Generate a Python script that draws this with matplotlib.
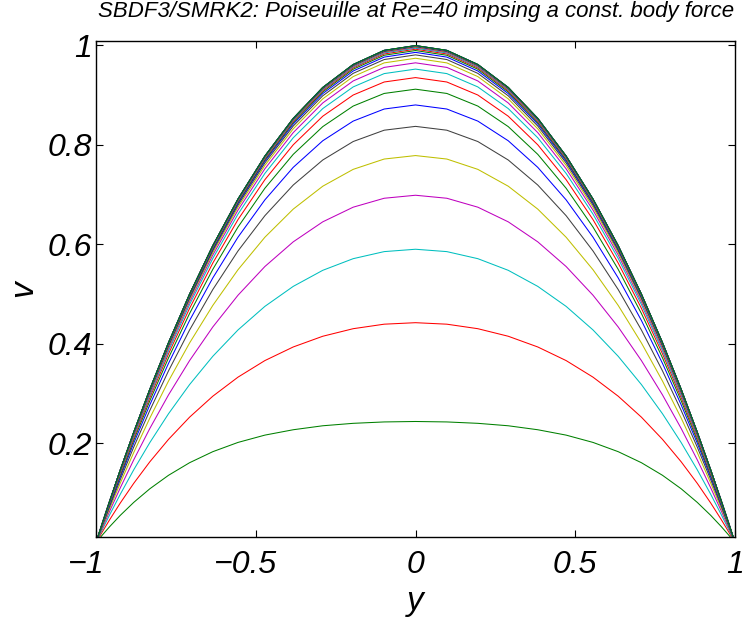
import matplotlib
matplotlib.use("Agg")
import matplotlib.pyplot as plt
import matplotlib.transforms as mtransforms

# Chebyshev nodes on the left half-channel (profile symmetric about y=0)
y_half = [-1.0, -0.99518, -0.98079, -0.95694, -0.92388, -0.88192, -0.83147,
          -0.77301, -0.70711, -0.63439, -0.55557, -0.47140, -0.38268,
          -0.29028, -0.19509, -0.09802, 0.0]

# velocity profiles v(y) at successive output times (left half, j=0..16)
v_half = [
    [0]*17,
    [0, 0.0038, 0.0150, 0.0325, 0.0551, 0.0811, 0.1085, 0.1356, 0.1609, 0.1831, 0.2017, 0.2164, 0.2272, 0.2352, 0.2401, 0.2429, 0.2438],
    [0, 0.00540, 0.02124, 0.04659, 0.07995, 0.11941, 0.16279, 0.20786, 0.25248, 0.29468, 0.33298, 0.36631, 0.39367, 0.41522, 0.43042, 0.43949, 0.4425],
    [0, 0.00652, 0.02570, 0.05657, 0.09757, 0.14664, 0.20144, 0.25942, 0.31805, 0.37492, 0.42792, 0.47532, 0.51551, 0.54782, 0.57124, 0.58544, 0.5902],
    [0, 0.00734, 0.02897, 0.06391, 0.11052, 0.16667, 0.22985, 0.29732, 0.36627, 0.43392, 0.49773, 0.55547, 0.60509, 0.64532, 0.67478, 0.69275, 0.6988],
    [0, 0.00794, 0.03138, 0.06931, 0.12004, 0.18139, 0.25073, 0.32518, 0.40170, 0.47727, 0.54903, 0.61437, 0.67092, 0.71697, 0.75086, 0.77161, 0.7786],
    [0, 0.00839, 0.03315, 0.07327, 0.12704, 0.19221, 0.26609, 0.34567, 0.42776, 0.50916, 0.58676, 0.65770, 0.71934, 0.76967, 0.80682, 0.82961, 0.8373],
    [0, 0.00871, 0.03445, 0.07619, 0.13218, 0.20016, 0.27737, 0.36071, 0.44690, 0.53257, 0.61446, 0.68951, 0.75489, 0.80836, 0.84791, 0.87220, 0.8804],
    [0, 0.00895, 0.03541, 0.07833, 0.13597, 0.20601, 0.28566, 0.37178, 0.46097, 0.54980, 0.63484, 0.71290, 0.78104, 0.83682, 0.87814, 0.90353, 0.9121],
    [0, 0.00913, 0.03611, 0.07990, 0.13874, 0.21031, 0.29176, 0.37991, 0.47132, 0.56245, 0.64982, 0.73010, 0.80026, 0.85774, 0.90035, 0.92655, 0.9354],
    [0, 0.00926, 0.03663, 0.08106, 0.14078, 0.21346, 0.29623, 0.38588, 0.47891, 0.57174, 0.66081, 0.74272, 0.81437, 0.87309, 0.91665, 0.94345, 0.9525],
    [0, 0.00936, 0.03701, 0.08191, 0.14229, 0.21578, 0.29953, 0.39028, 0.48450, 0.57859, 0.66891, 0.75202, 0.82476, 0.88441, 0.92867, 0.95590, 0.9651],
    [0, 0.00943, 0.03728, 0.08253, 0.14338, 0.21748, 0.30194, 0.39349, 0.48859, 0.58359, 0.67482, 0.75881, 0.83235, 0.89267, 0.93744, 0.96499, 0.9743],
    [0, 0.00948, 0.03749, 0.08299, 0.14420, 0.21873, 0.30371, 0.39586, 0.49161, 0.58728, 0.67919, 0.76383, 0.83796, 0.89877, 0.94392, 0.97171, 0.9811],
    [0, 0.00951, 0.03764, 0.08333, 0.14479, 0.21966, 0.30502, 0.39761, 0.49383, 0.59000, 0.68241, 0.76752, 0.84208, 0.90326, 0.94869, 0.97665, 0.9861],
    [0, 0.00954, 0.03775, 0.08358, 0.14523, 0.22034, 0.30599, 0.39890, 0.49547, 0.59201, 0.68478, 0.77025, 0.84514, 0.90658, 0.95222, 0.98031, 0.9898],
    [0, 0.00956, 0.03783, 0.08376, 0.14556, 0.22084, 0.30670, 0.39984, 0.49667, 0.59348, 0.68652, 0.77224, 0.84736, 0.90901, 0.95479, 0.98298, 0.9925],
    [0, 0.00958, 0.03789, 0.08390, 0.14579, 0.22121, 0.30722, 0.40054, 0.49756, 0.59456, 0.68780, 0.77372, 0.84901, 0.91080, 0.95670, 0.98496, 0.9945],
    [0, 0.00959, 0.03794, 0.08400, 0.14597, 0.22148, 0.30761, 0.40106, 0.49822, 0.59538, 0.68877, 0.77483, 0.85025, 0.91215, 0.95813, 0.98644, 0.9960],
    [0, 0.00960, 0.03797, 0.08407, 0.14609, 0.22167, 0.30788, 0.40141, 0.49867, 0.59592, 0.68941, 0.77557, 0.85108, 0.91305, 0.95908, 0.98743, 0.9970],
    [0, 0.00960, 0.03799, 0.08412, 0.14619, 0.22181, 0.30808, 0.40169, 0.49902, 0.59635, 0.68993, 0.77616, 0.85174, 0.91376, 0.95984, 0.98822, 0.9978],
    [0, 0.00961, 0.03801, 0.08416, 0.14626, 0.22192, 0.30824, 0.40190, 0.49929, 0.59668, 0.69031, 0.77660, 0.85223, 0.91430, 0.96041, 0.98881, 0.9984],
    [0, 0.00961, 0.03802, 0.08419, 0.14631, 0.22200, 0.30835, 0.40204, 0.49947, 0.59690, 0.69057, 0.77689, 0.85256, 0.91466, 0.96080, 0.98920, 0.9988],
    [0, 0.00961, 0.03803, 0.08421, 0.14634, 0.22205, 0.30842, 0.40215, 0.49960, 0.59706, 0.69076, 0.77712, 0.85281, 0.91493, 0.96108, 0.98950, 0.9991],
    [0, 0.00962, 0.03804, 0.08423, 0.14638, 0.22211, 0.30850, 0.40225, 0.49973, 0.59722, 0.69095, 0.77734, 0.85306, 0.91520, 0.96137, 0.98980, 0.9994],
    [0, 0.00962, 0.03805, 0.08424, 0.14640, 0.22214, 0.30854, 0.40230, 0.49980, 0.59731, 0.69105, 0.77745, 0.85318, 0.91534, 0.96151, 0.98995, 0.99955],
    [0, 0.00962, 0.03805, 0.08425, 0.14641, 0.22216, 0.30857, 0.40234, 0.49985, 0.59737, 0.69113, 0.77754, 0.85328, 0.91544, 0.96163, 0.99006, 0.99967],
    [0, 0.00962, 0.03806, 0.08425, 0.14642, 0.22218, 0.30860, 0.40238, 0.49989, 0.59742, 0.69119, 0.77760, 0.85335, 0.91552, 0.96171, 0.99015, 0.99976],
    [0, 0.00962, 0.03806, 0.08426, 0.14643, 0.22219, 0.30861, 0.40240, 0.49992, 0.59745, 0.69122, 0.77765, 0.85340, 0.91558, 0.96177, 0.99021, 0.99982],
    [0, 0.00962, 0.03806, 0.08426, 0.14643, 0.22220, 0.30863, 0.40241, 0.49994, 0.59748, 0.69126, 0.77768, 0.85344, 0.91562, 0.96182, 0.99026, 0.99987],
]

x_ticks = [-1, -0.5, 0, 0.5, 1]
x_ticklabels = ["\u22121", "\u22120.5", "0", "0.5", "1"]
y_ticks = [0.2, 0.4, 0.6, 0.8, 1]
y_ticklabels = ["0.2", "0.4", "0.6", "0.8", "1"]
title = "SBDF3/SMRK2: Poiseuille at Re=40 impsing a const. body force"

# MATLAB classic colour order
colors = [(0, 0, 1), (0, 0.5, 0), (1, 0, 0), (0, 0.75, 0.75),
          (0.75, 0, 0.75), (0.75, 0.75, 0), (0.25, 0.25, 0.25)]

plt.rcParams['font.family'] = ['Liberation Sans', 'DejaVu Sans']

fig = plt.figure(figsize=(7.47, 6.19), dpi=100)
ax = fig.add_axes([96/747, 82/619, (735-96)/747, (537-41)/619])

y_full = y_half + [-v for v in reversed(y_half[:-1])]
for i, row in enumerate(v_half):
    v_full = row + list(reversed(row[:-1]))
    ax.plot(y_full, v_full, color=colors[i % 7], lw=0.75)

ax.set_xlim(-1, 1)
ax.set_ylim(0.0115, 1.009)
ax.set_xticks(x_ticks)
ax.set_xticklabels(x_ticklabels)
ax.set_yticks(y_ticks)
ax.set_yticklabels(y_ticklabels)
ax.tick_params(direction='in', length=5, width=0.8, top=True, right=True,
               labelsize=23)
ax.tick_params(axis='x', pad=9.5)
ax.tick_params(axis='y', pad=3)
for lab in ax.get_xticklabels() + ax.get_yticklabels():
    lab.set_fontstyle('italic')
# MATLAB centres the number, leaving the minus sign hanging to the left
shift = mtransforms.ScaledTranslation(-10/100, 0, fig.dpi_scale_trans)
for lab in ax.get_xticklabels():
    if lab.get_text().startswith("\u2212"):
        lab.set_transform(lab.get_transform() + shift)
for sp in ax.spines.values():
    sp.set_linewidth(1.0)

ax.set_xlabel("y", fontsize=24, fontstyle='italic', labelpad=4)
ax.set_ylabel("v", fontsize=24, fontstyle='italic', labelpad=6)
fig.text(416/747, 1 - 17/619, title, ha='center', va='baseline',
         fontsize=16, fontstyle='italic')

fig.savefig("out.png", dpi=100)
